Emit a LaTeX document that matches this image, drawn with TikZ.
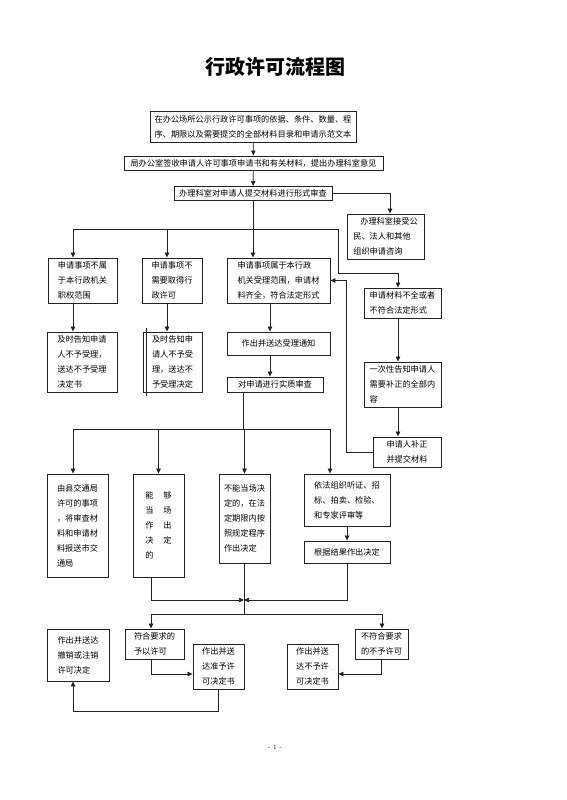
\documentclass[tikz,border=0pt]{standalone}
\usepackage{fontspec}
\usepackage{tikz}
\usetikzlibrary{arrows.meta,positioning,calc}
\newfontfamily\cjk{Noto Sans CJK SC}
\definecolor{ink}{HTML}{222222}

\begin{document}
\begin{tikzpicture}[
  x=1pt, y=-1pt,
  box/.style={draw=ink, line width=0.9pt, align=left, inner sep=3pt,
              font=\cjk\fontsize{8.2}{15}\selectfont},
  arr/.style={draw=ink, line width=0.7pt, -{Triangle[length=5pt,width=4.5pt]}},
  line/.style={draw=ink, line width=0.7pt}
]
  \useasboundingbox (0,0) rectangle (566,800);
  \node[font=\cjk\bfseries\fontsize{20}{24}\selectfont] (title) at (275,67) {行政许可流程图};

  % acceptance stage
  \node[box, minimum width=206, minimum height=31] (pub) at (253,126.5)
    {在办公场所公示行政许可事项的依据、条件、数量、程\\序、期限以及需要提交的全部材料目录和申请示范文本};
  \node[box, minimum width=259, minimum height=14, inner ysep=2pt] (sign) at (253.5,163)
    {局办公室签收申请人许可事项申请书和有关材料，提出办理科室意见};
  \node[box, minimum width=158, minimum height=14, inner ysep=2pt] (check) at (253,193.5)
    {办理科室对申请人提交材料进行形式审查};
  \node[box, minimum width=77, minimum height=45] (consult) at (385.5,236.5)
    {\hspace{7pt}办理科室接受公\\民、法人和其他\\组织申请咨询};
  \node[box, minimum width=69, minimum height=45] (notown) at (82.5,280.5)
    {申请事项不属\\于本行政机关\\职权范围};
  \node[box, minimum width=60, minimum height=45] (nolic) at (172,280.5)
    {申请事项不\\需要取得行\\政许可};
  \node[box, minimum width=103, minimum height=45] (accept) at (278.5,280.5)
    {申请事项属于本行政\\机关受理范围，申请材\\料齐全，符合法定形式};
  \node[box, minimum width=77, minimum height=30] (incomplete) at (402.5,303)
    {申请材料不全或者\\不符合法定形式};
  \node[box, minimum width=70, minimum height=60] (rejA) at (82,362)
    {及时告知申请\\人不予受理，\\送达不予受理\\决定书};
  \node[box, minimum width=59, minimum height=60] (rejB) at (172.5,362)
    {及时告知申\\请人不予受\\理，送达不\\予受理决定};
  \node[box, minimum width=103, minimum height=23] (notice) at (278.5,343.5)
    {作出并送达受理通知};
  \node[box, minimum width=96, minimum height=15, inner ysep=2pt] (review) at (275,384.5)
    {对申请进行实质审查};
  \node[box, minimum width=77, minimum height=45] (inform) at (402.5,384.5)
    {一次性告知申请人\\需要补正的全部内\\容};
  \node[box, minimum width=68, minimum height=30] (supply) at (407,452)
    {申请人补正\\并提交材料};

  % decision stage
  \node[box, minimum width=61, minimum height=103] (county) at (77.5,525.5)
    {由县交通局\\许可的事项\\，将审查材\\料和申请材\\料报送市交\\通局};
  \node[box, minimum width=51, minimum height=103] (spot) at (158.5,525.5)
    {能\hspace{10pt}够\\当\hspace{10pt}场\\作\hspace{10pt}出\\决\hspace{10pt}定\\的};
  \node[box, minimum width=51, minimum height=89] (later) at (244.5,518.5)
    {不能当场决\\定的，在法\\定期限内按\\照规定程序\\作出决定};
  \node[box, minimum width=86, minimum height=52] (hearing) at (347,500)
    {依法组织听证、招\\标、拍卖、检验、\\和专家评审等};
  \node[box, minimum width=86, minimum height=22] (result) at (347,552)
    {根据结果作出决定};

  % outcome stage
  \node[box, minimum width=62, minimum height=52] (revoke) at (78,655)
    {作出并送达\\撤销或注销\\许可决定};
  \node[box, minimum width=59, minimum height=30] (grant) at (154.5,644)
    {符合要求的\\予以许可};
  \node[box, minimum width=51, minimum height=45] (grantdoc) at (218.5,666.5)
    {作出并送\\达准予许\\可决定书};
  \node[box, minimum width=51, minimum height=45] (denydoc) at (312.5,666.5)
    {作出并送\\达不予许\\可决定书};
  \node[box, minimum width=53, minimum height=30] (deny) at (381.5,644)
    {不符合要求\\的不予许可};

  \node[font=\fontsize{6}{7}\selectfont] (page) at (275,747) {- 1 -};

  % junctions
  \coordinate (busA) at (73,229);
  \coordinate (busB) at (167,229);
  \coordinate (busE) at (338,229);
  \coordinate (busBend) at (338,273);
  \coordinate (busC) at (73,429);
  \coordinate (busD) at (330,429);
  \coordinate (merge) at (244,600);
  \coordinate (busF) at (151,614);
  \coordinate (busG) at (382,614);

  % connectors
  \draw[arr] (pub) -- (sign);
  \draw[arr] (sign) -- (check);
  \draw[arr] (check.east) -| ([xshift=4.5pt]consult.north);
  \draw[arr] (check.south) -- (check.south |- accept.north);
  \draw[line] (busA) -- (busE) -- (busBend);
  \draw[arr] (busBend) -| ([xshift=-4.5pt]incomplete.north);
  \draw[arr] (busA) -- (busA |- notown.north);
  \draw[arr] (busB) -- (busB |- nolic.north);
  \draw[arr] ([xshift=-9.5pt]notown.south) -- ([xshift=-9.5pt]notown.south |- rejA.north);
  \draw[arr] ([xshift=-5pt]nolic.south) -- ([xshift=-5pt]nolic.south |- rejB.north);
  \draw[line] ([xshift=4pt,yshift=4pt]rejB.north west) -- ([xshift=4pt,yshift=-4pt]rejB.south west);
  \draw[arr] ([xshift=-8.5pt]accept.south) -- ([xshift=-8.5pt]notice.north);
  \draw[arr] ([xshift=-8.5pt]notice.south) -- ([xshift=-8.5pt]notice.south |- review.north);
  \draw[arr] ([xshift=-4.5pt]incomplete.south) -- ([xshift=-4.5pt]inform.north);
  \draw[arr] ([xshift=-4.5pt]inform.south) -- ([xshift=-4.5pt]inform.south |- supply.north);
  \draw[arr] (supply.west) -- ++(-26,0) |- (accept.east);

  \draw[line] ([xshift=-32pt]review.south) -- ([xshift=-32pt]review.south |- busC);
  \draw[line] (busC) -- (busD);
  \draw[arr] (busC) -- (busC |- county.north);
  \draw[arr] (spot.north |- busC) -- (spot.north);
  \draw[arr] (later.north |- busC) -- (later.north);
  \draw[arr] (busD) -- (busD |- hearing.north);
  \draw[arr] (hearing) -- (result);

  \draw[arr] ([xshift=-7.5pt]spot.south) |- (merge);
  \draw[arr] (result.south) |- (merge);
  \draw[line] (later.south -| merge) -- (merge |- busF);
  \draw[line] (busF) -- (busG);
  \draw[arr] (busF) -- (busF |- grant.north);
  \draw[arr] (busG) -- (busG |- deny.north);
  \draw[arr] ([xshift=-3.5pt]grant.south) |- ([yshift=-7.5pt]grantdoc.west);
  \draw[arr] (deny.south) |- ([yshift=-7.5pt]denydoc.east);
  \draw[arr] (grantdoc.south) -- ++(0,22) -| ([xshift=-5pt]revoke.south);
\end{tikzpicture}
\end{document}
